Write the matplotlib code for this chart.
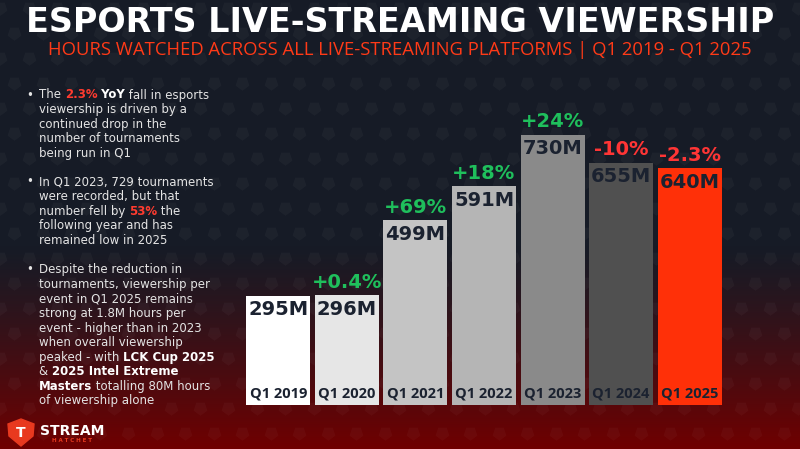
import numpy as np
import matplotlib
matplotlib.use("Agg")
import matplotlib.pyplot as plt
from matplotlib.colors import to_rgb
from matplotlib.patches import Polygon

# data
quarters = ["Q1 2019", "Q1 2020", "Q1 2021", "Q1 2022", "Q1 2023", "Q1 2024", "Q1 2025"]
hours = [295, 296, 499, 591, 730, 655, 640]  # millions of hours watched
value_labels = ["295M", "296M", "499M", "591M", "730M", "655M", "640M"]
changes = ["", "+0.4%", "+69%", "+18%", "+24%", "-10%", "-2.3%"]
bar_colors = ["#ffffff", "#e6e6e6", "#c4c4c4", "#b5b5b5", "#8a8a8a", "#505050", "#ff3008"]

title = "ESPORTS LIVE-STREAMING VIEWERSHIP"
subtitle = "HOURS WATCHED ACROSS ALL LIVE-STREAMING PLATFORMS | Q1 2019 - Q1 2025"

# bullet notes: each line is a list of (text, style) pieces; None marks a new bullet
notes = [
    None,
    [("The ", "n"), ("2.3%", "r"), (" YoY", "b"), (" fall in esports", "n")],
    [("viewership is driven by a", "n")],
    [("continued drop in the", "n")],
    [("number of tournaments", "n")],
    [("being run in Q1", "n")],
    None,
    [("In Q1 2023, 729 tournaments", "n")],
    [("were recorded, but that", "n")],
    [("number fell by ", "n"), ("53%", "r"), (" the", "n")],
    [("following year and has", "n")],
    [("remained low in 2025", "n")],
    None,
    [("Despite the reduction in", "n")],
    [("tournaments, viewership per", "n")],
    [("event in Q1 2025 remains", "n")],
    [("strong at 1.8M hours per", "n")],
    [("event - higher than in 2023", "n")],
    [("when overall viewership", "n")],
    [("peaked - with ", "n"), ("LCK Cup 2025", "b")],
    [("& ", "n"), ("2025 Intel Extreme", "b")],
    [("Masters", "b"), (" totalling 80M hours", "n")],
    [("of viewership alone", "n")],
]

W, H = 800, 449
navy = "#1b2230"
green = "#1fbf5c"
red = "#ff3535"

fig = plt.figure(figsize=(8, 4.49), dpi=100)

# background: navy fading into dark red at the bottom
bg = fig.add_axes([0, 0, 1, 1])
bg.set_xlim(0, W)
bg.set_ylim(H, 0)
bg.axis("off")
top_c = np.array(to_rgb("#161b26"))
bot_c = np.array(to_rgb("#700000"))
t = np.clip((np.arange(H) - 245) / (H - 245), 0, 1) ** 1.2
grad = top_c[None, :] * (1 - t[:, None]) + bot_c[None, :] * t[:, None]
bg.imshow(grad[:, None, :], extent=[0, W, H, 0], aspect="auto", zorder=0)

# faint shield pattern
gx, gy = np.meshgrid(np.arange(0, W + 30, 28.5), np.arange(8, H + 25, 25))
gx = gx + (np.arange(gx.shape[0])[:, None] % 2) * 14.25
bg.scatter(gx.ravel(), gy.ravel(), marker=(5, 0, 180), s=110, color="white",
           alpha=0.03, lw=0, zorder=1)

# title + subtitle
fig.text(0.5, 1 - 22 / H, title, ha="center", va="center", color="white",
         fontsize=24, fontweight="heavy", family="DejaVu Sans")
fig.text(0.5, 1 - 50 / H, subtitle, ha="center", va="center", color="#ff3a17",
         fontsize=13.3, family="Open Sans")

# bars
ax = fig.add_axes([244 / W, 44 / H, 480 / W, 345 / H])
ax.set_xlim(-0.5, 6.5)
ax.set_ylim(0, 345 / 0.37)
ax.axis("off")
x = np.arange(len(quarters))
ax.bar(x, hours, width=0.934, color=bar_colors, zorder=2)

for xi, h, lab, q, ch in zip(x, hours, value_labels, quarters, changes):
    ax.annotate(lab, (xi, h), xytext=(0, -14), textcoords="offset pixels",
                ha="center", va="center", fontsize=14, fontweight="heavy",
                color=navy, zorder=3)
    ax.annotate(q, (xi, 0), xytext=(0, 11), textcoords="offset pixels",
                ha="center", va="center", fontsize=10.5, fontweight="bold",
                family="Open Sans", color=navy, zorder=3)
    if ch:
        ax.annotate(ch, (xi, h), xytext=(0, 13), textcoords="offset pixels",
                    ha="center", va="center", fontsize=14, fontweight="heavy",
                    color=green if ch.startswith("+") else red, zorder=3)

# bullet notes, drawn piece by piece so colours/weights can change mid-line
renderer = fig.canvas.get_renderer()
styles = {"n": ("#e4e4e4", "normal"), "b": ("white", "bold"), "r": ("#ff3b2f", "bold")}
starts = [95, 182, 270]
step = 14.55
bullet_no = -1
y = 0
for line in notes:
    if line is None:
        bullet_no += 1
        y = starts[bullet_no]
        fig.text(30 / W, 1 - y / H, "•", ha="center", va="center", color="#e4e4e4",
                 fontsize=8.5)
        continue
    xp = 39
    for piece, st in line:
        col, wt = styles[st]
        txt = fig.text(xp / W, 1 - y / H, piece, ha="left", va="center", color=col,
                       fontweight=wt, fontsize=8.5, family="DejaVu Sans")
        xp += txt.get_window_extent(renderer).width
    y += step

# logo
bg.add_patch(Polygon([(8, 424), (21, 419), (34, 424), (33, 436), (21, 446), (9, 436)],
                     closed=True, color="#e8391f", zorder=3))
bg.text(21, 433, "T", ha="center", va="center", color="white", fontsize=10,
        fontweight="bold", zorder=4)
bg.text(40, 431, "STREAM", ha="left", va="center", color="white", fontsize=10,
        fontweight="bold", zorder=4)
bg.text(72, 440, "H A T C H E T", ha="center", va="center", color="#e8391f",
        fontsize=4, fontweight="bold", zorder=4)

fig.savefig("out.png", dpi=100)
